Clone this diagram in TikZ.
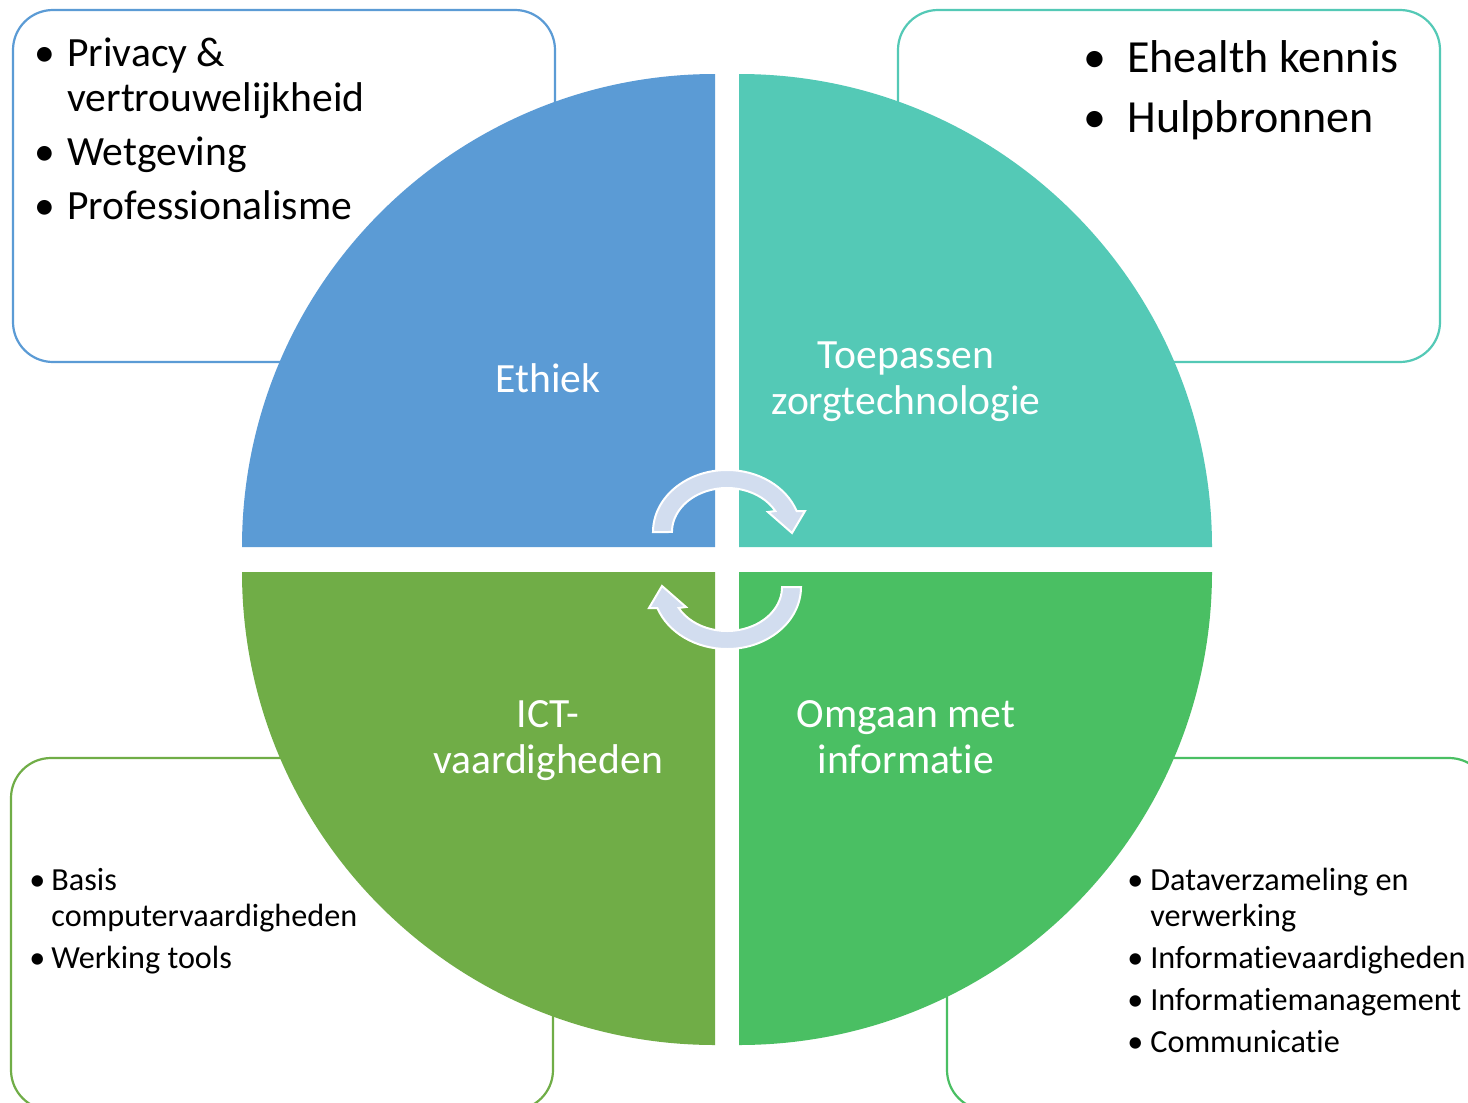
\documentclass[tikz,border=0pt]{standalone}
\usepackage{fontspec}
\setmainfont{Carlito}[Ligatures=NoCommon]
\definecolor{cBlue}{RGB}{91,155,213}
\definecolor{cTeal}{RGB}{84,201,182}
\definecolor{cGreen}{RGB}{112,173,71}
\definecolor{cLime}{RGB}{74,191,99}
\definecolor{cArrow}{RGB}{210,221,239}
\newcommand{\mybul}[1]{\makebox[#1][l]{\makebox[0pt][c]{•}}}
\begin{document}
\begin{tikzpicture}[x=0.5pt,y=-0.5pt,
  infobox/.style={line width=1.1pt, rounded corners=20pt, fill=white},
  lbl/.style={text=white, inner sep=0pt, anchor=base, font=\fontsize{20.8}{23}\selectfont},
  listtxt/.style={anchor=base west, inner sep=0pt, text=black},
  cycarrow/.style={fill=cArrow, draw=white, line width=1pt, line join=miter}]
\useasboundingbox (0,0) rectangle (1468,1103);
\clip (0,0) rectangle (1468,1103);
\fill[white] (0,0) rectangle (1468,1103);
% boxes
\draw[infobox, draw=cBlue] (13,10) rectangle (555,362);
\draw[infobox, draw=cTeal] (898,10) rectangle (1440,362);
\draw[infobox, draw=cGreen] (11,758) rectangle (553,1110);
\draw[infobox, draw=cLime] (947,758) rectangle (1489,1110);
% box texts
\node[listtxt, font=\fontsize{20.8}{22.5}\selectfont] (tltext) at (44,66)
  {\begin{tabular}[t]{@{}l@{}l@{}}\mybul{11.5pt}&Privacy \&\\ &vertrouwelijkheid\\[5pt]
   \mybul{11.5pt}&Wetgeving\\[4.5pt] \mybul{11.5pt}&Professionalisme\end{tabular}};
\node[listtxt, font=\fontsize{23}{28}\selectfont] (trtext) at (1095,72)
  {\begin{tabular}[t]{@{}l@{}l@{}}\mybul{16pt}&Ehealth kennis\\[2pt] \mybul{16pt}&Hulpbronnen\end{tabular}};
\node[listtxt, font=\fontsize{16.1}{18}\selectfont] (bltext) at (37,890)
  {\begin{tabular}[t]{@{}l@{}l@{}}\mybul{7pt}&Basis\\ &computervaardigheden\\[3pt]
   \mybul{7pt}&Werking tools\end{tabular}};
\node[listtxt, font=\fontsize{16.1}{18}\selectfont] (brtext) at (1135,890)
  {\begin{tabular}[t]{@{}l@{}l@{}}\mybul{7.5pt}&Dataverzameling en\\ &verwerking\\[3pt]
   \mybul{7.5pt}&Informatievaardigheden\\[3pt] \mybul{7.5pt}&Informatiemanagement\\[3pt]
   \mybul{7.5pt}&Communicatie\end{tabular}};
% quadrants
\fill[cBlue] (715,547) -- (242,547) arc[start angle=180, end angle=90, radius=236.5pt] -- cycle;
\fill[cTeal] (739,547) -- (739,74) arc[start angle=90, end angle=0, radius=236.5pt] -- cycle;
\fill[cGreen] (715,572) -- (715,1045) arc[start angle=270, end angle=180, radius=236.5pt] -- cycle;
\fill[cLime] (739,572) -- (1212,572) arc[start angle=0, end angle=-90, radius=236.5pt] -- cycle;
% labels
\node[lbl] (ethiek) at (548,392) {Ethiek};
\node[lbl] (toep) at (906,368) {\begin{tabular}[t]{@{}c@{}}Toepassen\\zorgtechnologie\end{tabular}};
\node[lbl] (ict) at (548,727) {\begin{tabular}[t]{@{}c@{}}ICT-\\vaardigheden\end{tabular}};
\node[lbl] (omg) at (906,727) {\begin{tabular}[t]{@{}c@{}}Omgaan met\\informatie\end{tabular}};
% circular arrows
\path[cycarrow] (653,532) arc[start angle=180, end angle=19.8, x radius=37pt, y radius=31pt]
  -- (805,511) -- (792,533) -- (768,512) -- (775.3,511)
  arc[start angle=28.5, end angle=180, x radius=27.5pt, y radius=22pt] -- cycle;
\begin{scope}[rotate around={180:(727,559.5)}]
\path[cycarrow] (653,532) arc[start angle=180, end angle=19.8, x radius=37pt, y radius=31pt]
  -- (805,511) -- (792,533) -- (768,512) -- (775.3,511)
  arc[start angle=28.5, end angle=180, x radius=27.5pt, y radius=22pt] -- cycle;
\end{scope}
\end{tikzpicture}
\end{document}
